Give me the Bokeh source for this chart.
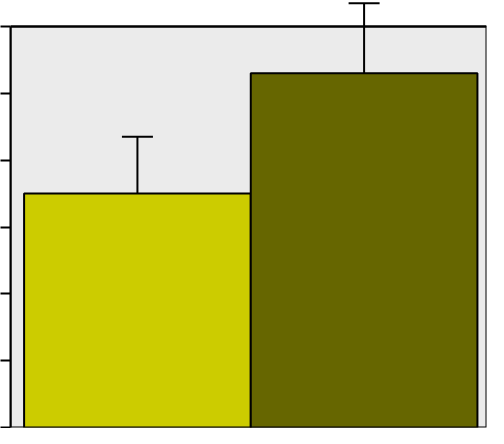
from bokeh.plotting import figure
from bokeh.models import ColumnDataSource, Whisker, TeeHead, Range1d, BoxAnnotation, Span
from bokeh.embed import file_html
from bokeh.resources import INLINE

# --- data ---
categories = ["Group 1", "Group 2"]
positions = [1, 2]
means = [3.5, 5.3]
errors = [0.85, 1.05]
colors = ["#cccc00", "#666600"]
y_ticks = [0, 1, 2, 3, 4, 5, 6]
y_max = 6

upper = [m + e for m, e in zip(means, errors)]
src = ColumnDataSource(dict(x=positions, top=means, lower=means, upper=upper,
                            color=colors, cat=categories))

p = figure(width=488, height=428, output_backend="svg", toolbar_location=None,
           x_range=Range1d(0.44, 2.54), y_range=Range1d(0, 6.39),
           min_border_left=10, min_border_right=2, min_border_top=0,
           min_border_bottom=1)

p.background_fill_color = "white"
p.border_fill_color = "white"
p.outline_line_color = None
p.xgrid.visible = False
p.ygrid.visible = False
p.xaxis.visible = False

# grey panel with black frame, from 0 up to the top tick
panel = BoxAnnotation(bottom=0, top=y_max, fill_color="#ebebeb", fill_alpha=1,
                      line_color="black", line_width=2, line_alpha=1,
                      level="underlay")
p.add_layout(panel)
p.add_layout(Span(location=y_max, dimension="width", line_color="black",
                  line_width=2, level="underlay"))

p.yaxis.ticker = y_ticks
p.yaxis.bounds = (0, y_max)
p.yaxis.major_label_overrides = {t: "" for t in y_ticks}
p.yaxis.major_label_standoff = 0
p.yaxis.major_tick_in = 0
p.yaxis.major_tick_out = 10
p.yaxis.minor_tick_line_color = None
p.yaxis.axis_line_width = 2
p.yaxis.major_tick_line_width = 2
p.yaxis.axis_line_color = "black"
p.yaxis.major_tick_line_color = "black"

p.vbar(x="x", top="top", bottom=0, width=1, source=src, fill_color="color",
       line_color="black", line_width=2)

w = Whisker(base="x", lower="lower", upper="upper", source=src,
            upper_head=TeeHead(size=31, line_width=2, line_color="black"),
            lower_head=None, line_width=2, line_color="black", level="overlay")
p.add_layout(w)

open("out.html", "w").write(file_html(p, INLINE))
